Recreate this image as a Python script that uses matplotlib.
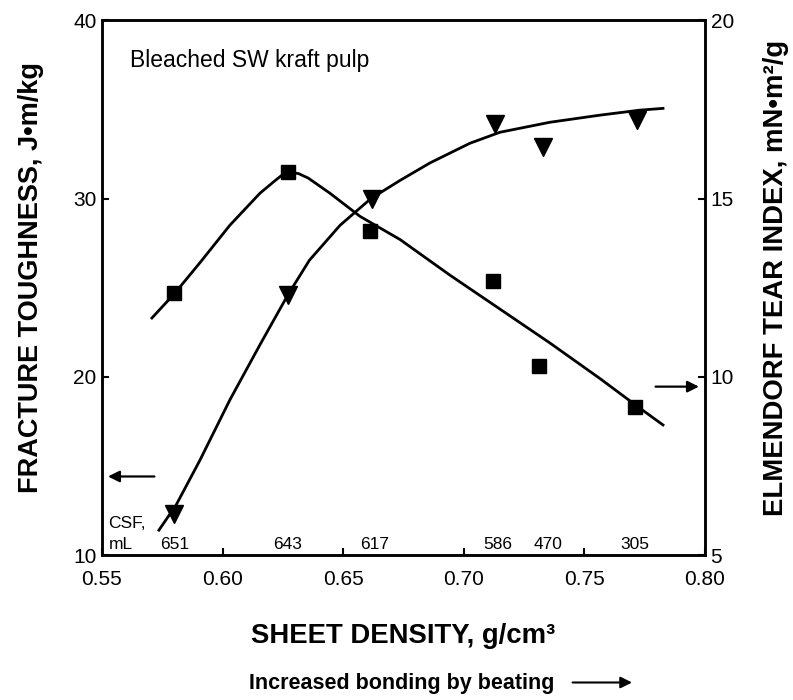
import matplotlib
matplotlib.use("Agg")
import matplotlib.pyplot as plt

plt.rcParams['font.family'] = ['Liberation Sans', 'DejaVu Sans']

# Measured points
density_sq = [0.580, 0.627, 0.661, 0.712, 0.731, 0.771]
toughness = [24.7, 31.5, 28.2, 25.4, 20.6, 18.3]

density_tri = [0.580, 0.627, 0.662, 0.713, 0.733, 0.772]
tear_index = [6.15, 12.3, 15.0, 17.1, 16.45, 17.2]

# Hand-drawn trend curves
tough_curve_x = [0.5707, 0.580, 0.5906, 0.603, 0.6155, 0.6217, 0.6245, 0.628, 0.6315,
                 0.6355, 0.6445, 0.657, 0.6736, 0.6943, 0.715, 0.7357, 0.7565,
                 0.7714, 0.7826]
tough_curve_y = [23.3, 24.66, 26.4, 28.5, 30.3, 31.0, 31.3, 31.48, 31.4,
                 31.15, 30.3, 29.0, 27.7, 25.7, 23.8, 21.9, 19.9,
                 18.4, 17.3]

tear_curve_x = [0.5736, 0.5807, 0.5906, 0.603, 0.6155, 0.627, 0.636, 0.6487,
                0.6615, 0.6736, 0.686, 0.7025, 0.715, 0.7357, 0.7565, 0.773, 0.7826]
tear_curve_y = [5.70, 6.4, 7.66, 9.35, 10.9, 12.29, 13.27, 14.25,
                15.0, 15.51, 16.0, 16.55, 16.86, 17.14, 17.34, 17.48, 17.53]

# CSF values along the bottom of the plot
csf_x = [0.580, 0.627, 0.663, 0.714, 0.735, 0.771]
csf_labels = ['651', '643', '617', '586', '470', '305']

x_ticks = [0.55, 0.60, 0.65, 0.70, 0.75, 0.80]
x_ticklabels = ['0.55', '0.60', '0.65', '0.70', '0.75', '0.80']
left_ticks = [10, 20, 30, 40]
right_ticks = [5, 10, 15, 20]

fig = plt.figure(figsize=(7.93, 7.00), dpi=100)
ax = fig.add_axes([0.1286, 0.207, 0.7604, 0.764])
ax2 = ax.twinx()

ax.set_xlim(0.55, 0.80)
ax.set_ylim(10, 40)
ax2.set_ylim(5, 20)

ax.plot(tough_curve_x, tough_curve_y, color='black', lw=2.0, zorder=2)
ax.plot(density_sq, toughness, linestyle='none', marker='s', markersize=10,
        color='black', zorder=3)
ax2.plot(tear_curve_x, tear_curve_y, color='black', lw=2.0, zorder=2)
ax2.plot(density_tri, tear_index, linestyle='none', marker='v', markersize=13,
         color='black', zorder=3)

for a in (ax, ax2):
    for s in a.spines.values():
        s.set_linewidth(1.8)

ax.set_xticks(x_ticks)
ax.set_xticklabels(x_ticklabels)
ax.set_yticks(left_ticks)
ax2.set_yticks(right_ticks)
ax.tick_params(axis='x', direction='in', length=5, width=1.5, labelsize=15, pad=11)
ax.tick_params(axis='y', direction='in', length=5, width=1.5, labelsize=15, pad=4)
ax2.tick_params(axis='y', direction='in', length=5, width=1.5, labelsize=15, pad=4)

ax.set_xlabel('SHEET DENSITY, g/cm³', fontsize=19.8, fontweight='bold', labelpad=24)
ax.set_ylabel('FRACTURE TOUGHNESS, J•m/kg', fontsize=19.5, fontweight='bold',
              labelpad=21)
ax2.set_ylabel('ELMENDORF TEAR INDEX, mN•m²/g', fontsize=19.8, fontweight='bold',
               labelpad=21)
ax.yaxis.label.set_y(0.519)
ax2.yaxis.label.set_y(0.519)

ax.text(0.046, 0.925, 'Bleached SW kraft pulp', transform=ax.transAxes,
        fontsize=16.5, ha='left', va='center')

# CSF annotations
ax.text(0.010, 0.060, 'CSF,', transform=ax.transAxes, fontsize=12.5,
        ha='left', va='center')
ax.text(0.012, 0.020, 'mL', transform=ax.transAxes, fontsize=12.5,
        ha='left', va='center')
for xv, lab in zip(csf_x, csf_labels):
    ax.text(xv, 0.020, lab, transform=ax.get_xaxis_transform(), fontsize=12.5,
            ha='center', va='center')

# Axis pointers
ax.annotate('', xy=(0.01, 0.147), xytext=(0.087, 0.147), xycoords='axes fraction',
            arrowprops=dict(arrowstyle='-|>', color='black', lw=1.6,
                            mutation_scale=17, shrinkA=0, shrinkB=0))
ax.annotate('', xy=(0.99, 0.315), xytext=(0.918, 0.315), xycoords='axes fraction',
            arrowprops=dict(arrowstyle='-|>', color='black', lw=1.6,
                            mutation_scale=17, shrinkA=0, shrinkB=0))

fig.text(0.506, 0.024, 'Increased bonding by beating', fontsize=15.5,
         fontweight='bold', ha='center', va='center')
ax.annotate('', xy=(0.797, 0.025), xytext=(0.722, 0.025), xycoords='figure fraction',
            annotation_clip=False,
            arrowprops=dict(arrowstyle='-|>', color='black', lw=1.5,
                            mutation_scale=17, shrinkA=0, shrinkB=0))

fig.savefig('out.png', dpi=100)
